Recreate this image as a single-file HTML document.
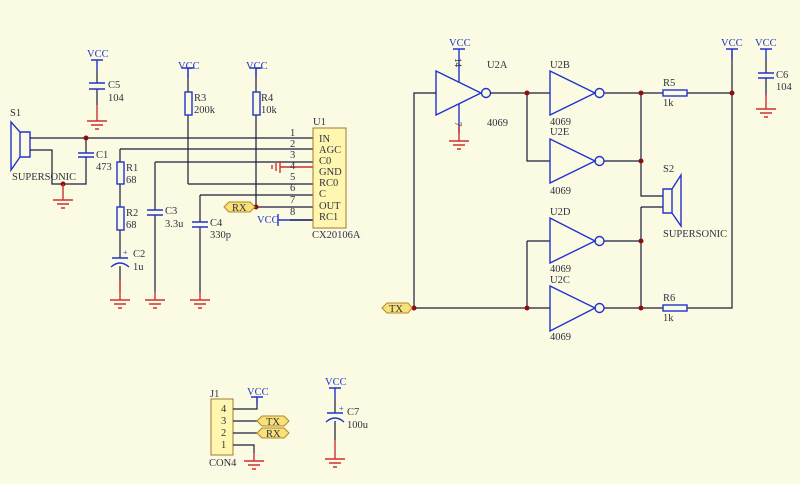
<!DOCTYPE html>
<html><head><meta charset="utf-8"><style>
html,body{margin:0;padding:0;background:#fbfbe4;}
svg{display:block;font-family:"Liberation Serif",serif;font-size:10.5px;}
.w{stroke:#1c1c3c;stroke-width:1.2;fill:none}
.b{stroke:#2233cc;stroke-width:1.4;fill:none}
.r{stroke:#d03030;stroke-width:1.4;fill:none}
.t{fill:#303040}
.v{fill:#2233cc}
.j{fill:#8a1010}
</style></head><body>
<svg width="800" height="484" viewBox="0 0 800 484">
<defs>
<g id="gnd"><path class="r" d="M0 0V8M-10 8H10M-6 12H6M-2 16H2"/></g>
<g id="vcc"><path class="b" d="M-6 0H6M0 0V10"/></g>
</defs>
<!-- C5 -->
<text x="87" y="57" class="v">VCC</text>
<use href="#vcc" x="97" y="60"/>
<path class="w" d="M97 70V83M97 89V105"/>
<path class="b" d="M89 83H105M89 89H105"/>
<path class="r" d="M97 105V113"/><use href="#gnd" x="97" y="113"/>
<text x="108" y="88" class="t">C5</text><text x="108" y="101" class="t">104</text>
<!-- S1 -->
<text x="10" y="116" class="t">S1</text>
<path class="b" d="M20 132H30V157H20ZM20 132L11 122V170L20 157"/>
<text x="12" y="180" class="t">SUPERSONIC</text>
<path class="w" d="M30 138H313M30 150H52V184H86V157M86 138V153M120 149H313M120 149V162M120 184V207M120 230V258M155 162H313M155 162V210M155 215V292M188 184H313M188 68V92M188 115V184M200 195H313M200 195V222M200 227V292M256 68V92M256 115V207H313M120 266V292"/>
<path class="b" d="M78 153H94M78 157H94M147 210H163M147 215H163M192 222H208M192 227H208"/>
<circle cx="86" cy="138" r="2.5" class="j"/><circle cx="63" cy="184" r="2.5" class="j"/>
<path class="r" d="M63 184V192"/><use href="#gnd" x="63" y="192"/>
<text x="96" y="158" class="t">C1</text><text x="96" y="170" class="t">473</text>
<!-- R1 R2 C2 -->
<rect x="117" y="162" width="7" height="22" class="b"/>
<rect x="117" y="207" width="7" height="23" class="b"/>
<text x="126" y="171" class="t">R1</text><text x="126" y="183" class="t">68</text>
<text x="126" y="216" class="t">R2</text><text x="126" y="228" class="t">68</text>
<path class="b" d="M112 258H128M111 267Q120 259 129 267"/>
<text x="123" y="255" class="v" style="font-size:8px">+</text>
<text x="133" y="257" class="t">C2</text><text x="133" y="270" class="t">1u</text>
<path class="r" d="M120 280V292"/>
<use href="#gnd" x="120" y="292"/><use href="#gnd" x="155" y="292"/><use href="#gnd" x="200" y="292"/>
<text x="165" y="214" class="t">C3</text><text x="165" y="227" class="t">3.3u</text>
<text x="210" y="226" class="t">C4</text><text x="210" y="238" class="t">330p</text>
<!-- R3 R4 -->
<text x="178" y="69" class="v">VCC</text><use href="#vcc" x="188" y="68"/>
<text x="246" y="69" class="v">VCC</text><use href="#vcc" x="256" y="68"/>
<rect x="185" y="92" width="7" height="23" class="b"/>
<rect x="253" y="92" width="7" height="23" class="b"/>
<text x="194" y="101" class="t">R3</text><text x="194" y="113" class="t">200k</text>
<text x="261" y="101" class="t">R4</text><text x="261" y="113" class="t">10k</text>
<circle cx="256" cy="207" r="2.5" class="j"/>
<path d="M224 207L229 202H250L255 207L250 212H229Z" fill="#f8e07a" stroke="#b08a20"/>
<text x="232" y="211" class="t">RX</text>
<!-- GND pin4 -->
<path class="r" d="M280 167H313M280 161V173M276 163V171M272 165V169"/>
<path class="b" d="M278 214V226M278 220H313"/>
<path class="w" d="M290 220H313"/>
<text x="257" y="223" class="v">VCC</text>
<!-- U1 -->
<rect x="313" y="128" width="33" height="100" fill="#fff7b0" stroke="#a07830"/>
<text x="313" y="125" class="t">U1</text><text x="312" y="238" class="t">CX20106A</text>
<g class="t"><text x="290" y="136">1</text><text x="290" y="147">2</text><text x="290" y="158">3</text><text x="290" y="169">4</text><text x="290" y="180">5</text><text x="290" y="191">6</text><text x="290" y="203">7</text><text x="290" y="215">8</text>
<text x="319" y="142">IN</text><text x="319" y="153">AGC</text><text x="319" y="164">C0</text><text x="319" y="175">GND</text><text x="319" y="186">RC0</text><text x="319" y="197">C</text><text x="319" y="209">OUT</text><text x="319" y="220">RC1</text></g>
<!-- right -->
<text x="449" y="46" class="v">VCC</text><use href="#vcc" x="459" y="49"/>
<path class="b" d="M459 59V82M459 104V133M436 71V115L481 93Z"/>
<circle cx="486" cy="93" r="4.5" class="b"/>
<path class="r" d="M459 125V133"/><use href="#gnd" x="459" y="133"/>
<text x="455" y="58" class="t" transform="rotate(90 455 58)" style="font-size:9px">14</text>
<text x="455" y="122" class="t" transform="rotate(90 455 122)" style="font-size:9px">7</text>
<text x="487" y="68" class="t">U2A</text><text x="487" y="126" class="t">4069</text>
<path class="w" d="M436 93H414V308M395 308H550M490 93H550M527 93V161H550M527 241H550M527 241V308M604 93H663M687 93H732M604 161H641M641 93V196H663M641 207H663M641 207V308M604 241H641M604 308H663M687 308H732V49"/>
<g class="b">
<path d="M550 71V115L595 93ZM550 139V183L595 161ZM550 218V263L595 241ZM550 286V331L595 308Z"/>
<circle cx="599.5" cy="93" r="4.5"/><circle cx="599.5" cy="161" r="4.5"/><circle cx="599.5" cy="241" r="4.5"/><circle cx="599.5" cy="308" r="4.5"/>
<rect x="663" y="90" width="24" height="6"/><rect x="663" y="305" width="24" height="6"/>
<path d="M663 189H672V213H663ZM672 189L681 175V226L672 213"/>
</g>
<g class="t"><text x="550" y="68">U2B</text><text x="550" y="125">4069</text><text x="550" y="135">U2E</text><text x="550" y="194">4069</text>
<text x="550" y="215">U2D</text><text x="550" y="272">4069</text><text x="550" y="283">U2C</text><text x="550" y="340">4069</text>
<text x="663" y="86">R5</text><text x="663" y="106">1k</text><text x="663" y="301">R6</text><text x="663" y="321">1k</text>
<text x="663" y="172">S2</text><text x="663" y="237">SUPERSONIC</text></g>
<g class="j"><circle cx="414" cy="308" r="2.5"/><circle cx="527" cy="93" r="2.5"/><circle cx="641" cy="93" r="2.5"/><circle cx="641" cy="161" r="2.5"/><circle cx="641" cy="241" r="2.5"/><circle cx="641" cy="308" r="2.5"/><circle cx="527" cy="308" r="2.5"/><circle cx="732" cy="93" r="2.5"/></g>
<path d="M382 308L387 303H408L412 308L408 313H387Z" fill="#f8e07a" stroke="#b08a20"/>
<text x="389" y="312" class="t">TX</text>
<text x="721" y="46" class="v">VCC</text><use href="#vcc" x="732" y="49"/>
<text x="755" y="46" class="v">VCC</text><use href="#vcc" x="766" y="49"/>
<path class="w" d="M766 59V73M766 78V96"/><path class="b" d="M758 73H774M758 78H774"/>
<path class="r" d="M766 94V101"/><use href="#gnd" x="766" y="101"/>
<text x="776" y="78" class="t">C6</text><text x="776" y="90" class="t">104</text>
<!-- J1 -->
<rect x="211" y="399" width="22" height="56" fill="#fff7b0" stroke="#a07830"/>
<text x="210" y="397" class="t">J1</text><text x="209" y="466" class="t">CON4</text>
<g class="t"><text x="221" y="412">4</text><text x="221" y="424">3</text><text x="221" y="436">2</text><text x="221" y="448">1</text></g>
<path class="w" d="M233 409H257V397M233 421H257M233 433H257M233 445H254V453"/>
<text x="247" y="395" class="v">VCC</text><path class="b" d="M251 397H263M257 397V404"/>
<use href="#gnd" x="254" y="453"/>
<path d="M257 421L262 416H284L289 421L284 426H262Z" fill="#f8e07a" stroke="#b08a20"/>
<path d="M257 433L262 428H284L289 433L284 438H262Z" fill="#f8e07a" stroke="#b08a20"/>
<text x="266" y="425" class="t">TX</text><text x="266" y="437" class="t">RX</text>
<!-- C7 -->
<text x="325" y="385" class="v">VCC</text><use href="#vcc" x="335" y="388"/>
<path class="w" d="M335 398V413"/>
<path class="b" d="M327 413H343M326 422Q335 414 344 422"/>
<text x="339" y="411" class="v" style="font-size:8px">+</text>
<text x="347" y="415" class="t">C7</text><text x="347" y="428" class="t">100u</text>
<path class="w" d="M335 421V440"/><path class="r" d="M335 440V451"/><use href="#gnd" x="335" y="451"/>
</svg>
</body></html>
